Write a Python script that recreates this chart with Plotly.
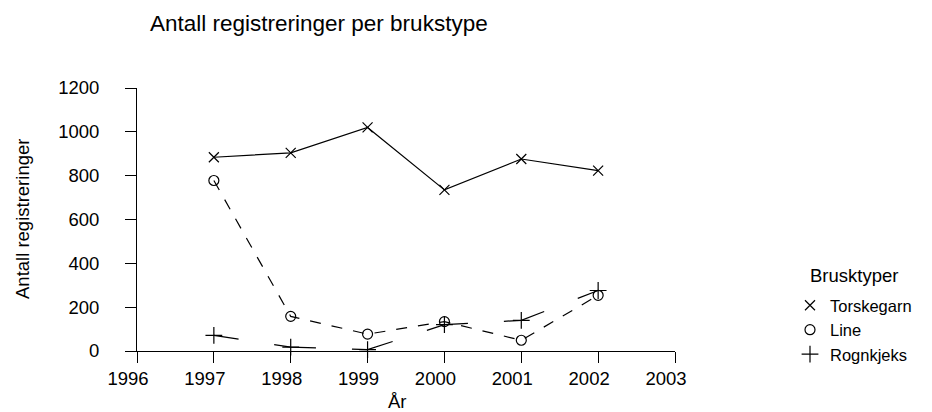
import plotly.graph_objects as go

# ---- data ----
years = [1997, 1998, 1999, 2000, 2001, 2002]
torskegarn = [884, 904, 1020, 735, 876, 823]
line_vals = [778, 158, 77, 134, 49, 254]
rognkjeks = [71, 18, 6, 120, 140, 276]
series_names = ["Torskegarn", "Line", "Rognkjeks"]
x_ticks = [1996, 1997, 1998, 1999, 2000, 2001, 2002, 2003]
y_ticks = [0, 200, 400, 600, 800, 1000, 1200]

title_text = "Antall registreringer per brukstype"
x_title = "År"
y_title = "Antall registreringer"
legend_title = "Brusktyper"

FONT = "Liberation Sans, Arial, Helvetica, sans-serif"

series_vals = [torskegarn, line_vals, rognkjeks]
symbols = ["x-thin-open", "circle-open", "cross-thin-open"]
dashes = [
    "solid",
    "11px,11px",
    "25px,36px,42px,36px,42px,36px,42px,36px,42px,36px,42px",
]
sizes = [10, 10, 12]

fig = go.Figure()
for name, vals, sym, dash, sz in zip(series_names, series_vals, symbols, dashes, sizes):
    fig.add_trace(go.Scatter(
        x=years, y=vals, mode="lines+markers", name=name, showlegend=False,
        line=dict(color="black", width=1.2, dash=dash),
        marker=dict(symbol=sym, size=sz, color="black", line=dict(color="black", width=1.2)),
        cliponaxis=False,
    ))
# legend entries (symbols only, like the original)
for name, sym, sz in zip(series_names, symbols, sizes):
    fig.add_trace(go.Scatter(
        x=[None], y=[None], mode="markers", name=name, showlegend=True,
        marker=dict(symbol=sym, size=sz, color="black", line=dict(color="black", width=1.2)),
    ))

# page has an 8px body margin -> figure is placed at (8, 8) in the window
OFF = 8
W, H = 932 - OFF, 412 - OFF
PLOT_L, PLOT_R, PLOT_T, PLOT_B = 137, 675, 88, 351  # window pixels
L = PLOT_L - OFF
R = W - (PLOT_R - OFF)
T = PLOT_T - OFF
B = H - (PLOT_B - OFF)
pw, ph = PLOT_R - PLOT_L, PLOT_B - PLOT_T

def px_x(px):
    return (px - PLOT_L) / pw

def px_y(py):
    return (PLOT_B - py) / ph

axis_common = dict(
    showline=True, linecolor="black", linewidth=1,
    ticks="outside", ticklen=11, tickwidth=1, tickcolor="black",
    showgrid=False, zeroline=False,
    tickfont=dict(family=FONT, size=18.5, color="black"),
    fixedrange=True,
)

fig.update_layout(
    width=W, height=H,
    margin=dict(l=L, r=R, t=T, b=B, pad=0),
    paper_bgcolor="white", plot_bgcolor="white",
    font=dict(family=FONT, color="black", size=18.5),
    xaxis=dict(range=[1996, 2003], tickvals=x_ticks, ticktext=[str(v) for v in x_ticks],
               ticklabelshift=-9, ticklabelstandoff=0, **axis_common),
    yaxis=dict(range=[0, 1200], tickvals=y_ticks, ticktext=[str(v) for v in y_ticks],
               ticklabelstandoff=22, **axis_common),
    legend=dict(
        x=px_x(790), xanchor="left", y=px_y(288), yanchor="top",
        font=dict(family=FONT, size=16.5, color="black"),
        bgcolor="rgba(0,0,0,0)", borderwidth=0,
        tracegroupgap=0,
    ),
    annotations=[
        dict(text=title_text, xref="paper", yref="paper", x=px_x(148), y=px_y(24),
             xanchor="left", yanchor="middle", showarrow=False,
             font=dict(family=FONT, size=22.5, color="black")),
        dict(text=x_title, xref="paper", yref="paper", x=px_x(397), y=px_y(401),
             xanchor="center", yanchor="middle", showarrow=False,
             font=dict(family=FONT, size=18.5, color="black")),
        dict(text=y_title, xref="paper", yref="paper", x=px_x(22), y=px_y(219),
             xanchor="center", yanchor="middle", textangle=-90, showarrow=False,
             font=dict(family=FONT, size=18.5, color="black")),
        dict(text=legend_title, xref="paper", yref="paper", x=px_x(808), y=px_y(275),
             xanchor="left", yanchor="middle", showarrow=False,
             font=dict(family=FONT, size=18.5, color="black")),
    ],
)

fig.write_html("out.html")
